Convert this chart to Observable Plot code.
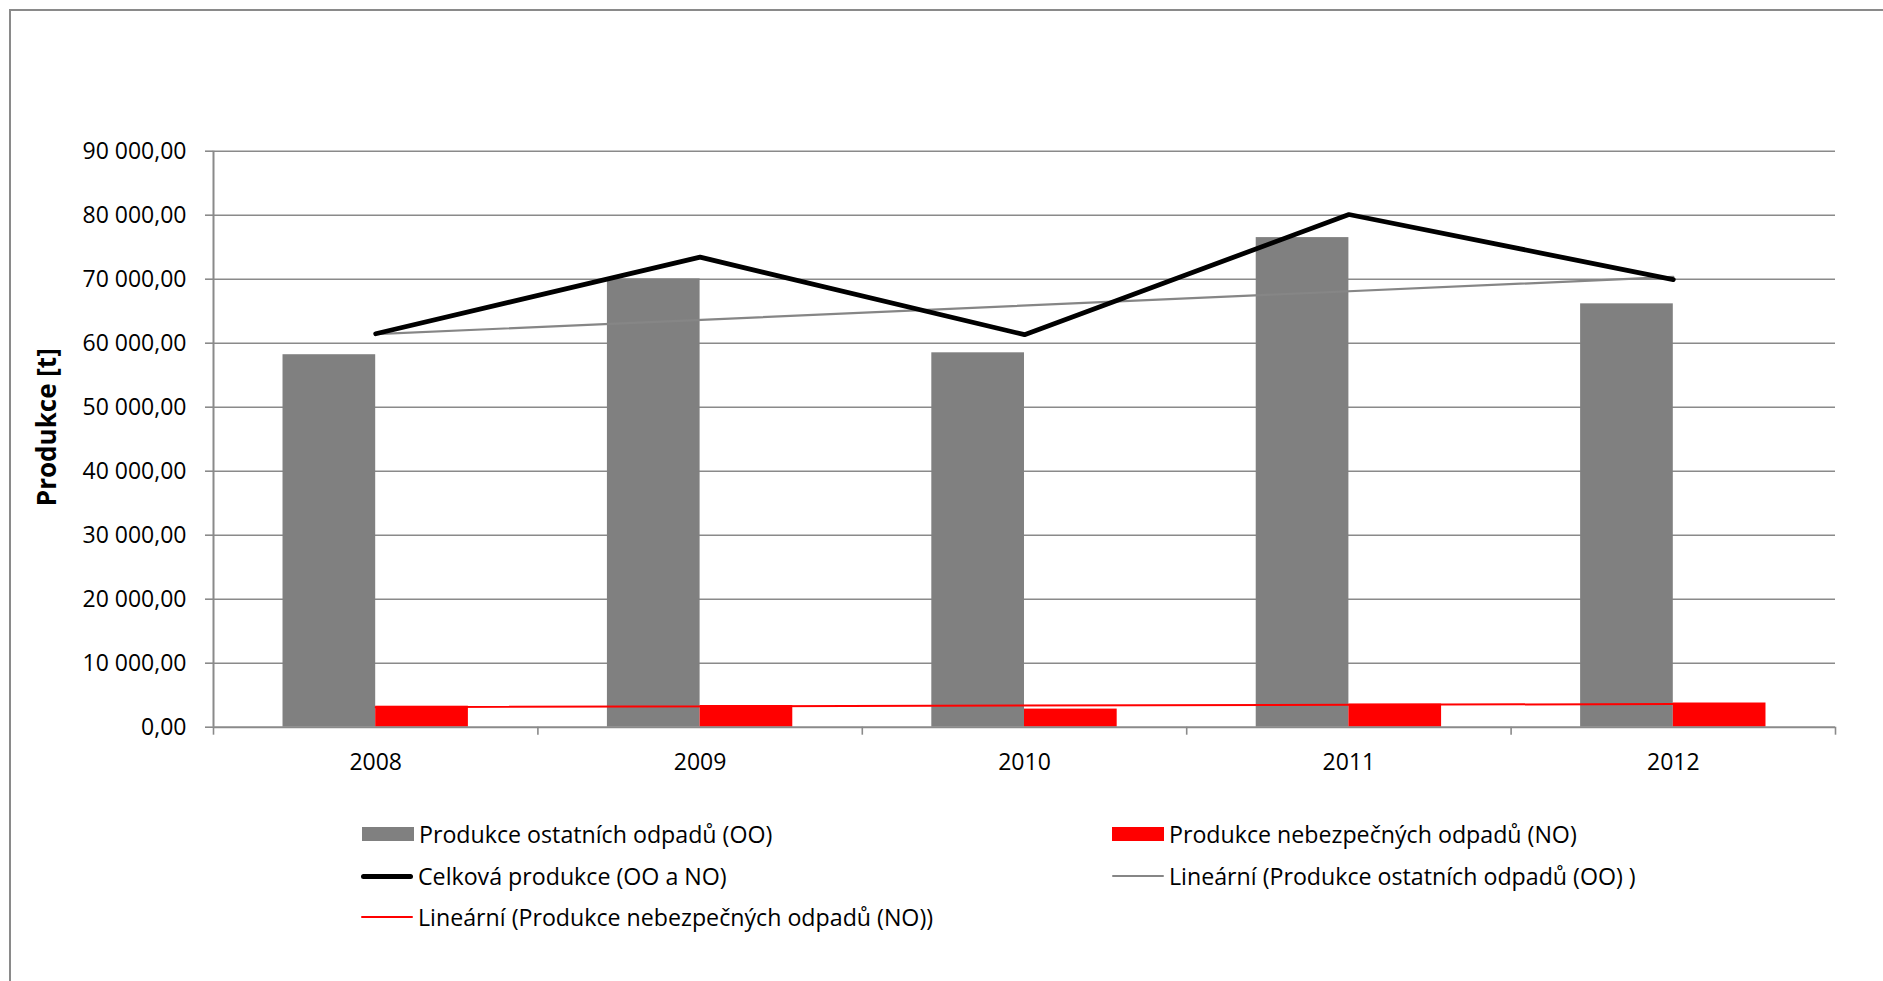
<!DOCTYPE html>
<html>
<head>
<meta charset="utf-8">
<script src="https://cdn.jsdelivr.net/npm/d3@7"></script>
<script src="https://cdn.jsdelivr.net/npm/@observablehq/plot@0.6"></script>
<style>
  html, body { margin: 0; padding: 0; background: #fff; }
  #wrap { position: relative; width: 1883px; height: 981px; overflow: hidden; font-family: 'Open Sans', sans-serif; }
  #frame { position: absolute; left: 9px; top: 9px; width: 2000px; height: 2000px; border: 2px solid #8a8a8a; }
  #chart { position: absolute; left: 0; top: 0; }
  .lg { position: absolute; display: flex; align-items: center; font-size: 23.2px; color: #000; white-space: nowrap; height: 30px; }
  .sw { display: inline-block; width: 52px; margin-right: 5px; }
</style>
</head>
<body>
<div id="wrap">
  <div id="frame"></div>
  <div id="chart"></div>
  <div id="legend"></div>
</div>
<script>
// ---- data ----
const years = [2008, 2009, 2010, 2011, 2012];
const ostatni = [58200, 70050, 58500, 76500, 66150];      // Produkce ostatních odpadů (OO)
const nebezpecne = [3280, 3390, 2830, 3610, 3780];        // Produkce nebezpečných odpadů (NO)
const celkova = [61480, 73440, 61330, 80110, 69930];      // Celková produkce (OO a NO)
const yTicks = [0, 10000, 20000, 30000, 40000, 50000, 60000, 70000, 80000, 90000];

const seriesNames = {
  oo: "Produkce ostatních odpadů (OO)",
  no: "Produkce nebezpečných odpadů (NO)",
  total: "Celková produkce (OO a NO)",
  trendOO: "Lineární (Produkce ostatních odpadů (OO) )",
  trendNO: "Lineární (Produkce nebezpečných odpadů (NO))"
};

const data = years.map((year, i) => ({year, oo: ostatni[i], no: nebezpecne[i], total: celkova[i]}));

const cz = d3.formatLocale({decimal: ",", thousands: " ", grouping: [3], currency: ["", ""]});
const fmt = cz.format(",.2f");

const barW = 1 / 3.5; // Excel gap width 150%
const boundaries = years.map(y => y - 0.5).concat([years[years.length - 1] + 0.5]);

const gridColor = "#8a8a8a";

const chart = Plot.plot({
  width: 1883,
  height: 790,
  marginLeft: 213,
  marginRight: 48,
  marginTop: 150.7,
  marginBottom: 63.3,
  style: {fontFamily: "'Open Sans', sans-serif", fontSize: "23px", color: "#000", background: "transparent", overflow: "visible"},
  x: {domain: [years[0] - 0.5, years[years.length - 1] + 0.5]},
  y: {domain: [0, 90000]},
  marks: [
    Plot.ruleY(yTicks.filter(d => d > 0), {stroke: gridColor, strokeWidth: 1.6}),
    Plot.axisY({ticks: yTicks, tickFormat: fmt, tickSize: 8, tickPadding: 19, stroke: gridColor, strokeWidth: 1.6, label: null, fill: "#000"}),
    Plot.axisX({ticks: boundaries, tickFormat: () => "", tickSize: 8, stroke: gridColor, strokeWidth: 1.6, label: null}),
    Plot.axisX({ticks: years, tickFormat: d => String(d), tickSize: 0, tickPadding: 26, label: null, fill: "#000"}),
    Plot.rect(data, {x1: d => d.year - barW, x2: d => d.year, y1: 0, y2: "oo", fill: "#808080"}),
    Plot.rect(data, {x1: d => d.year, x2: d => d.year + barW, y1: 0, y2: "no", fill: "#ff0000"}),
    Plot.ruleY([0], {stroke: gridColor, strokeWidth: 2}),
    Plot.ruleX([years[0] - 0.5], {y1: 0, y2: 90000, stroke: gridColor, strokeWidth: 2}),
    Plot.linearRegressionY(data, {x: "year", y: "no", stroke: "#ff0000", strokeWidth: 2, ci: 0}),
    Plot.linearRegressionY(data, {x: "year", y: "oo", stroke: "#868686", strokeWidth: 2.2, ci: 0}),
    Plot.line(data, {x: "year", y: "total", stroke: "#000", strokeWidth: 4.8, strokeLinecap: "round", strokeLinejoin: "miter"}),
    Plot.text(["Produkce [t]"], {frameAnchor: "left", textAnchor: "middle", rotate: -90, dx: -166, dy: -12, fontWeight: "bold", fontSize: 26, fill: "#000"})
  ]
});
document.getElementById("chart").appendChild(chart);

// ---- legend (below the plot area) ----
const legendItems = [
  {key: "oo", type: "rect", color: "#808080", left: 362, top: 834},
  {key: "no", type: "rect", color: "#ff0000", left: 1112, top: 834},
  {key: "total", type: "line", color: "#000", width: 5, left: 361, top: 876},
  {key: "trendOO", type: "line", color: "#868686", width: 2.5, left: 1112, top: 876},
  {key: "trendNO", type: "line", color: "#ff0000", width: 2, left: 361, top: 917}
];
const lg = document.getElementById("legend");
for (const it of legendItems) {
  const row = document.createElement("div");
  row.className = "lg";
  row.style.left = it.left + "px";
  row.style.top = (it.top - 15) + "px";
  const sw = document.createElement("span");
  sw.className = "sw";
  if (it.type === "rect") {
    sw.style.height = "14px";
    sw.style.background = it.color;
  } else {
    sw.style.height = it.width + "px";
    sw.style.background = it.color;
    sw.style.borderRadius = (it.width / 2) + "px";
  }
  const tx = document.createElement("span");
  tx.textContent = seriesNames[it.key];
  row.appendChild(sw);
  row.appendChild(tx);
  lg.appendChild(row);
}
</script>
</body>
</html>
